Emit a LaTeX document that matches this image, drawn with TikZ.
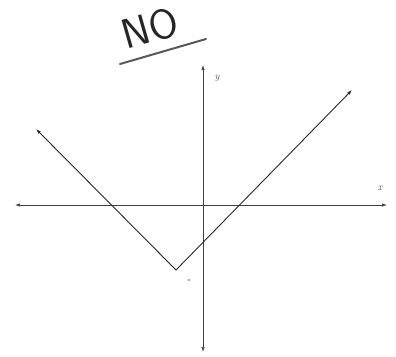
\documentclass[tikz,border=0pt]{standalone}
\usetikzlibrary{arrows.meta,positioning}

\begin{document}
\begin{tikzpicture}[
  x=1pt,y=1pt,
  axis/.style={{Latex[length=5pt,width=3.5pt]}-{Latex[length=5pt,width=3.5pt]},black!75,line width=0.7pt},
  graph/.style={{Latex[length=5pt,width=3.5pt]}-{Latex[length=5pt,width=3.5pt]},black!85,line width=0.9pt},
  lbl/.style={font=\normalsize\itshape,text=black!70}
]
\useasboundingbox (-203,-151) rectangle (193,205);
% axes
\coordinate (xl) at (-188,0);
\coordinate (xr) at (184,0);
\coordinate (yt) at (0,140);
\coordinate (yb) at (0,-147);
\draw[axis] (xl) -- (xr);
\draw[axis] (yt) -- (yb);
\node[lbl] (xlab) at (177,17) {x};
\node[lbl] (ylab) at (14,127) {y};
% the V
\coordinate (lend) at (-167,76);
\coordinate (vert) at (-27,-65);
\coordinate (rend) at (149,115);
\draw[graph] (lend) -- (vert) -- (rend);
\fill[black!70] (-14,-75) circle (0.8);
% heading
\node[rotate=16,font=\sffamily\fontsize{42}{42}\selectfont,text=black!85] (no) at (-53,177) {NO};
\coordinate (ul) at (-83,141);
\coordinate (ur) at (3,166);
\draw[black!65,line width=2pt,line cap=round] (ul) -- (ur);
\end{tikzpicture}
\end{document}
